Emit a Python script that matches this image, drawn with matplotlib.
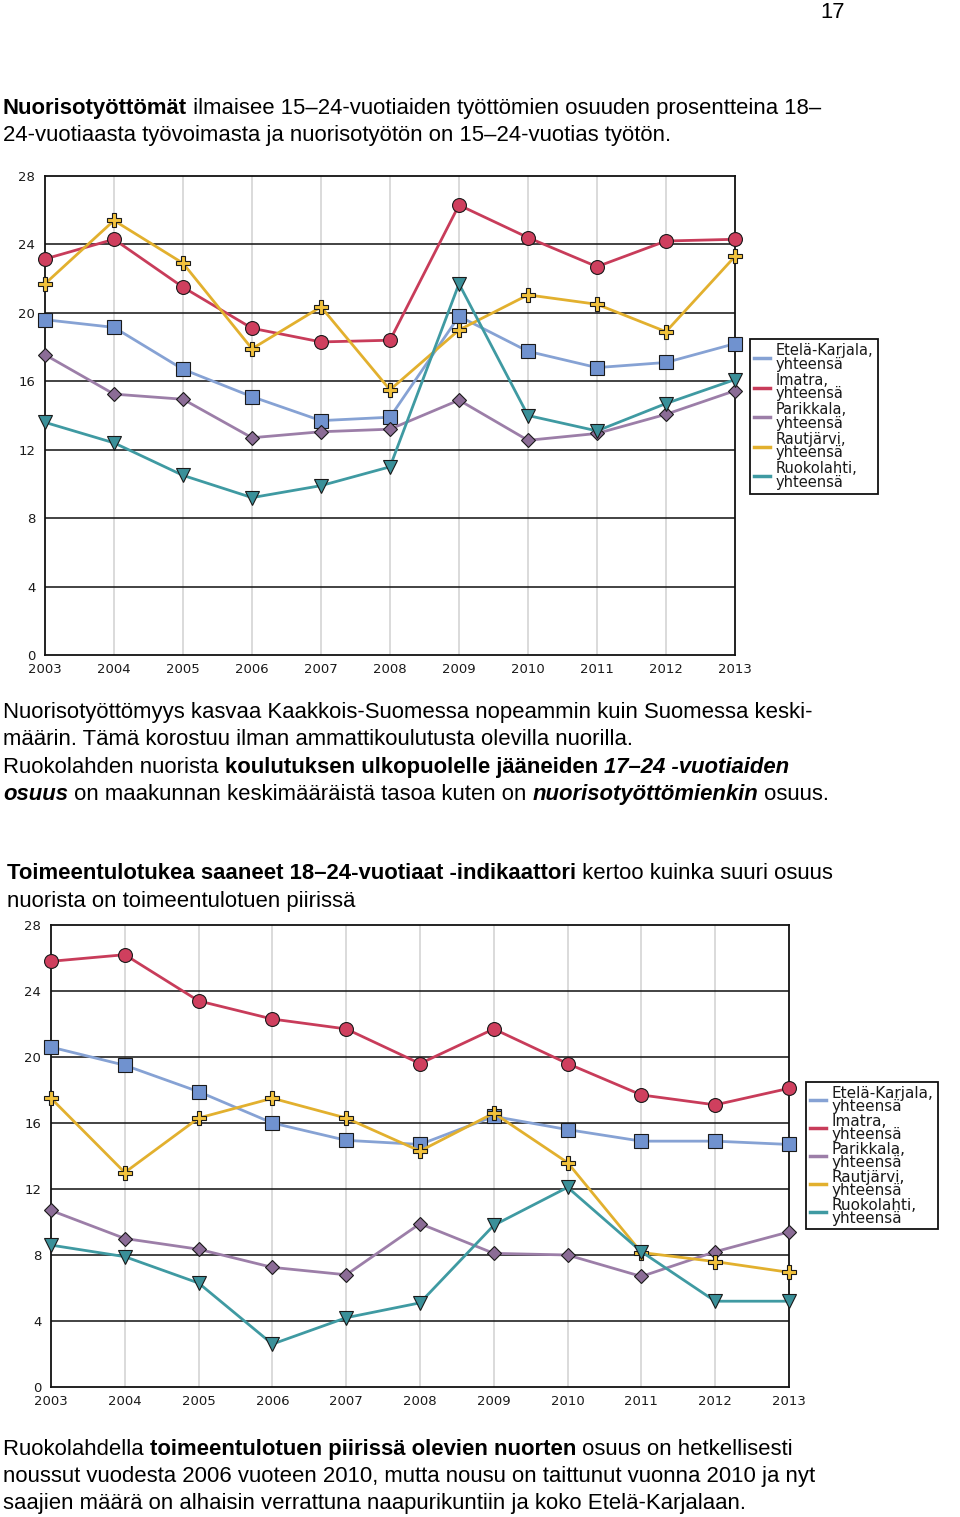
import matplotlib
matplotlib.use("Agg")
import matplotlib.pyplot as plt
from matplotlib.lines import Line2D

# ---------------- data ----------------
years = [2003, 2004, 2005, 2006, 2007, 2008, 2009, 2010, 2011, 2012, 2013]
year_labels = [str(y) for y in years]
y_ticks = [0, 4, 8, 12, 16, 20, 24, 28]
y_tick_labels = [str(v) for v in y_ticks]

series_labels = ["Etelä-Karjala,\nyhteensä", "Imatra,\nyhteensä", "Parikkala,\nyhteensä",
                 "Rautjärvi,\nyhteensä", "Ruokolahti,\nyhteensä"]

# Chart 1: nuorisotyöttömät (%)
unemp_etela = [19.6, 19.15, 16.7, 15.1, 13.7, 13.9, 19.8, 17.75, 16.8, 17.1, 18.2]
unemp_imatra = [23.15, 24.3, 21.5, 19.1, 18.3, 18.4, 26.3, 24.4, 22.7, 24.2, 24.3]
unemp_parikkala = [17.55, 15.25, 14.95, 12.7, 13.05, 13.2, 14.9, 12.55, 12.95, 14.07, 15.45]
unemp_rautjarvi = [21.7, 25.4, 22.9, 17.9, 20.35, 15.5, 19.0, 21.05, 20.5, 18.9, 23.3]
unemp_ruokolahti = [13.6, 12.4, 10.5, 9.2, 9.9, 11.0, 21.7, 14.0, 13.1, 14.7, 16.1]

# Chart 2: toimeentulotukea saaneet 18-24-vuotiaat (%)
support_etela = [20.6, 19.5, 17.9, 16.0, 14.95, 14.7, 16.4, 15.6, 14.9, 14.9, 14.7]
support_imatra = [25.8, 26.2, 23.4, 22.3, 21.7, 19.6, 21.7, 19.6, 17.7, 17.1, 18.1]
support_parikkala = [10.7, 9.0, 8.35, 7.25, 6.8, 9.9, 8.1, 8.0, 6.7, 8.2, 9.4]
support_rautjarvi = [17.5, 13.0, 16.3, 17.5, 16.3, 14.3, 16.6, 13.6, 8.15, 7.6, 6.95]
support_ruokolahti = [8.6, 7.9, 6.3, 2.6, 4.2, 5.1, 9.8, 12.1, 8.2, 5.2, 5.2]

# ---------------- styles ----------------
line_colors = ["#86a2d4", "#c83c5a", "#9c7ea8", "#e2b02e", "#3f9aa2"]
marker_fills = ["#7092cf", "#cf3f5e", "#8b6c96", "#f2c23c", "#3a9099"]
markers = ["s", "o", "D", "P", "v"]
marker_sizes = [9.5, 10, 7.5, 10, 10.5]

W, H = 960, 1517
fig = plt.figure(figsize=(W / 100, H / 100), dpi=100)
fig.patch.set_facecolor("white")
renderer = fig.canvas.get_renderer()

TEXT_FONT = "Liberation Sans"
TEXT_SIZE = 15.9


def seg_width(text, **kw):
    t1 = fig.text(0, 0, text + "|", **kw)
    w1 = t1.get_window_extent(renderer).width
    t1.remove()
    t2 = fig.text(0, 0, "|", **kw)
    w2 = t2.get_window_extent(renderer).width
    t2.remove()
    return w1 - w2


def rich_line(x_px, y_px, segments, size=TEXT_SIZE):
    x = x_px
    for text, weight, style in segments:
        kw = dict(fontsize=size, fontweight=weight, fontstyle=style, family=TEXT_FONT, color="black")
        fig.text(x / W, 1 - y_px / H, text, va="baseline", ha="left", **kw)
        x += seg_width(text, **kw)


N, B, I, BI = ("normal", "normal"), ("bold", "normal"), ("normal", "italic"), ("bold", "italic")


def S(text, st):
    return (text, st[0], st[1])


# page number
fig.text(845 / W, 1 - 18 / H, "17", fontsize=TEXT_SIZE, family=TEXT_FONT, ha="right", va="baseline")

# paragraph 1
rich_line(3, 114, [S("Nuorisotyöttömät", B),
                   S(" ilmaisee 15–24-vuotiaiden työttömien osuuden prosentteina 18–", N)])
rich_line(3, 141, [S("24-vuotiaasta työvoimasta ja nuorisotyötön on 15–24-vuotias työtön.", N)])

# paragraph 2
rich_line(3, 718, [S("Nuorisotyöttömyys kasvaa Kaakkois-Suomessa nopeammin kuin Suomessa keski-", N)])
rich_line(3, 745, [S("määrin. Tämä korostuu ilman ammattikoulutusta olevilla nuorilla.", N)])
rich_line(3, 773, [S("Ruokolahden nuorista ", N), S("koulutuksen ulkopuolelle jääneiden ", B),
                   S("17–24 -vuotiaiden", BI)])
rich_line(3, 800, [S("osuus", BI), S(" on maakunnan keskimääräistä tasoa kuten on ", N),
                   S("nuorisotyöttömienkin", BI), S(" osuus.", N)])

# paragraph 3
rich_line(7, 879, [S("Toimeentulotukea saaneet 18–24-vuotiaat -indikaattori", B),
                   S(" kertoo kuinka suuri osuus", N)])
rich_line(7, 907, [S("nuorista on toimeentulotuen piirissä", N)])

# paragraph 4
rich_line(3, 1455, [S("Ruokolahdella ", N), S("toimeentulotuen piirissä olevien nuorten", B),
                    S(" osuus on hetkellisesti", N)])
rich_line(3, 1482, [S("noussut vuodesta 2006 vuoteen 2010, mutta nousu on taittunut vuonna 2010 ja nyt", N)])
rich_line(3, 1509, [S("saajien määrä on alhaisin verrattuna naapurikuntiin ja koko Etelä-Karjalaan.", N)])


def make_chart(rect, series, legend_xy, legend_size, legend_ls, line_ls, bpad):
    left, top, right, bottom = rect
    ax = fig.add_axes([left / W, 1 - bottom / H, (right - left) / W, (bottom - top) / H])
    ax.set_xlim(years[0], years[-1])
    ax.set_ylim(0, 28)
    ax.set_xticks(years)
    ax.set_xticklabels(year_labels)
    ax.set_yticks(y_ticks)
    ax.set_yticklabels(y_tick_labels)
    ax.tick_params(axis="both", length=0, labelsize=9.5, labelcolor="#1a1a1a")
    ax.tick_params(axis="x", pad=6)
    ax.tick_params(axis="y", pad=7)
    for lab in ax.get_xticklabels() + ax.get_yticklabels():
        lab.set_family("DejaVu Sans")
    for yv in y_ticks[1:-1]:
        ax.axhline(yv, color="#222222", lw=1.2, zorder=1)
    for xv in years[1:-1]:
        ax.axvline(xv, color="#d4d4d4", lw=1.2, zorder=0.5)
    for sp in ax.spines.values():
        sp.set_color("#111111")
        sp.set_linewidth(1.3)
    for i, vals in enumerate(series):
        ax.plot(years, vals, color=line_colors[i], lw=2.0, marker=markers[i],
                markersize=marker_sizes[i], markerfacecolor=marker_fills[i],
                markeredgecolor="#1a1a1a", markeredgewidth=0.8, clip_on=False, zorder=3 + i)
    handles = [Line2D([0], [0], color=line_colors[i], lw=2.5) for i in range(len(series))]
    leg = fig.legend(handles, series_labels, loc="upper left",
                     bbox_to_anchor=(legend_xy[0] / W, 1 - legend_xy[1] / H),
                     bbox_transform=fig.transFigure, frameon=True, fancybox=False,
                     edgecolor="#111111", framealpha=1, borderaxespad=0,
                     prop={"family": "DejaVu Sans", "size": legend_size},
                     handlelength=1.05, handletextpad=0.4, labelspacing=legend_ls,
                     borderpad=bpad)
    leg.get_frame().set_linewidth(1.3)
    for t in leg.get_texts():
        t.set_linespacing(line_ls)
        t.set_color("#1a1a1a")
    return ax


make_chart((45, 176, 735, 655),
           [unemp_etela, unemp_imatra, unemp_parikkala, unemp_rautjarvi, unemp_ruokolahti],
           (750, 339), 10.5, 0.08, 0.86, 0.3)
make_chart((51, 925, 789, 1387),
           [support_etela, support_imatra, support_parikkala, support_rautjarvi, support_ruokolahti],
           (806, 1082), 11.0, 0.0, 0.83, 0.25)

fig.savefig("out.png", dpi=100, facecolor="white")
